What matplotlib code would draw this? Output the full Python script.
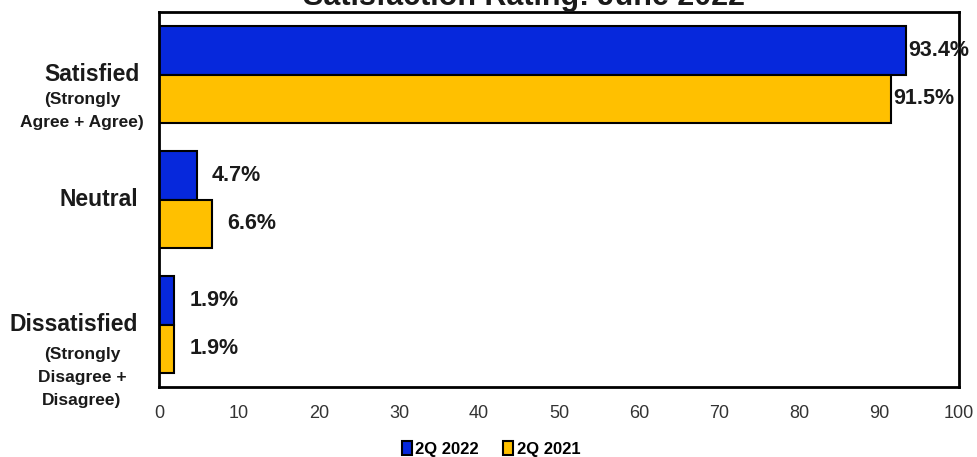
import numpy as np
import matplotlib.pyplot as plt

# data
categories = ['Satisfied', 'Neutral', 'Dissatisfied']
sub_labels = [['(Strongly', 'Agree + Agree)'], [], ['(Strongly', 'Disagree +', 'Disagree)']]
q2_2022 = [93.4, 4.7, 1.9]
q2_2021 = [91.5, 6.6, 1.9]
series_names = ['2Q 2022', '2Q 2021']
x_ticks = [0, 10, 20, 30, 40, 50, 60, 70, 80, 90, 100]

blue = '#0628DC'
gold = '#FFC000'
txt = '#1a1a1a'
font = 'Liberation Sans'

fig = plt.figure(figsize=(9.77, 4.57), dpi=100)
ax = fig.add_axes([159/977, 1 - 387/457, 800/977, 375/457])

y = np.arange(len(categories))
h = 0.39
b1 = ax.barh(y - h/2, q2_2022, height=h, color=blue, edgecolor='black', linewidth=1.5, label=series_names[0])
b2 = ax.barh(y + h/2, q2_2021, height=h, color=gold, edgecolor='black', linewidth=1.5, label=series_names[1])

# value labels (big bars sit close to the label, small ones further out)
for bars, vals in [(b1, q2_2022), (b2, q2_2021)]:
    for rect, v in zip(bars, vals):
        pad = 2 if v > 50 else 15
        ax.annotate(f'{v:.1f}%', (v, rect.get_y() + rect.get_height()/2),
                    xytext=(pad, 0), textcoords='offset pixels',
                    ha='left', va='center', fontsize=15.5, fontweight='bold',
                    family=font, color=txt)

ax.set_xlim(0, 100)
ax.set_ylim(2.5, -0.5)
ax.set_xticks(x_ticks)
ax.set_xticklabels([str(t) for t in x_ticks], family=font, fontsize=13, color='#333333')
ax.set_yticks([])
ax.tick_params(axis='x', length=0, pad=13)
for s in ax.spines.values():
    s.set_linewidth(2)
    s.set_color('black')

# category labels with smaller sub lines
main_x = [140, 138, 138]
for i, cat in enumerate(categories):
    ax.annotate(cat, xy=(main_x[i], i), xycoords=('figure pixels', 'data'),
                ha='right', va='center', fontsize=16.5, fontweight='bold',
                family=font, color=txt, annotation_clip=False)
    first = 25 if i == 0 else 30
    for k, line in enumerate(sub_labels[i]):
        ax.annotate(line, xy=(82, i), xycoords=('figure pixels', 'data'),
                    xytext=(0, -(first + 23*k)), textcoords='offset pixels',
                    ha='center', va='center', fontsize=12.5, fontweight='bold',
                    family=font, color=txt, annotation_clip=False)

fig.text(524/977, 1 - 5/457, 'Satisfaction Rating: June 2022', ha='center', va='baseline',
         fontsize=22, fontweight='bold', family=font, color=txt)

fig.legend(loc='center', bbox_to_anchor=(491/977, 1 - 449/457), ncol=2, frameon=False,
           handlelength=0.6, handleheight=0.9, handletextpad=0.2, columnspacing=1.5,
           prop={'family': font, 'weight': 'bold', 'size': 12})

fig.savefig('out.png', dpi=100)
